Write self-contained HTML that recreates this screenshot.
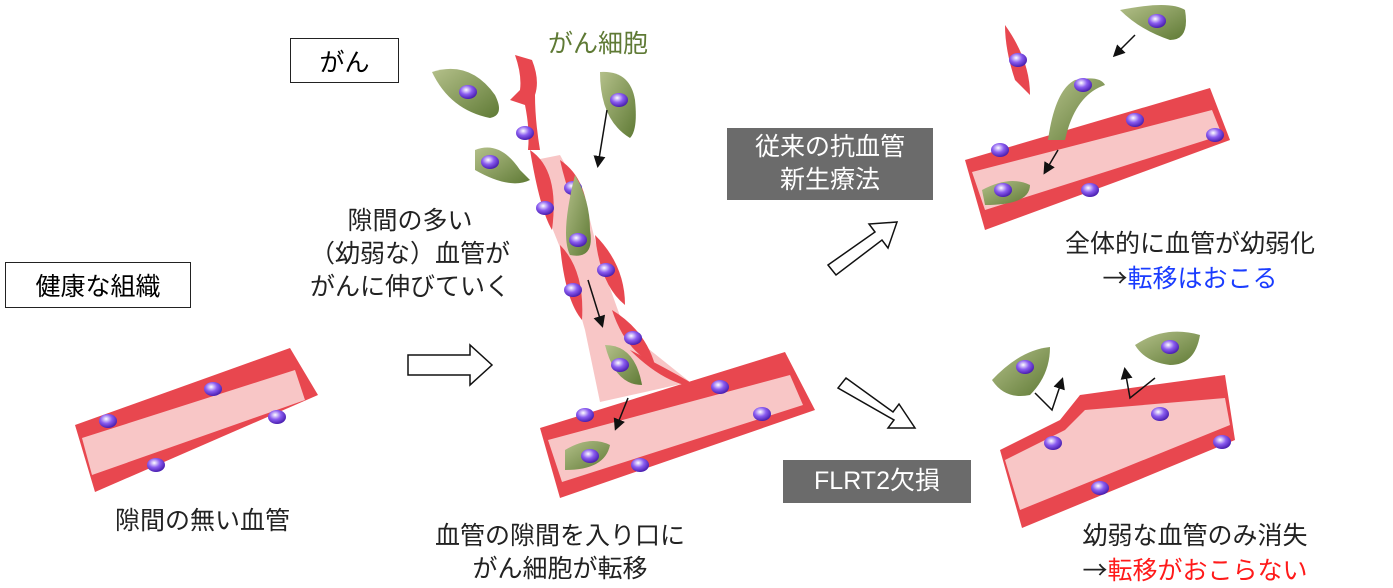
<!DOCTYPE html>
<html><head><meta charset="utf-8"><style>
body{margin:0;background:#fff;width:1393px;height:588px;overflow:hidden;position:relative;font-family:"Liberation Sans","Noto Sans CJK JP",sans-serif}
.t{position:absolute;font-size:25px;color:#222;white-space:nowrap;text-align:center;line-height:33px}
.box{position:absolute;border:1.5px solid #222;background:#fff;font-size:25px;display:flex;align-items:center;justify-content:center}
.g{position:absolute;background:#6b6b6b;color:#fff;font-size:25px;display:flex;align-items:center;justify-content:center;text-align:center;line-height:33px}
.ar{font-family:"Noto Sans CJK JP",sans-serif}
svg{position:absolute;left:0;top:0}
</style></head><body>
<svg width="1393" height="588">
<defs>
<radialGradient id="n" cx="40%" cy="35%" r="65%"><stop offset="0" stop-color="#fff"/><stop offset=".5" stop-color="#8a5cf0"/><stop offset="1" stop-color="#4a1fb0"/></radialGradient>
<linearGradient id="gc" x1="0" y1="0" x2="1" y2="1"><stop offset="0" stop-color="#b4c08a"/><stop offset="1" stop-color="#5f7a35"/></linearGradient>
<marker id="a" markerWidth="8" markerHeight="8" refX="6" refY="4" orient="auto"><path d="M0,0L8,4L0,8z" fill="#111"/></marker>
<g id="cell"><ellipse rx="9" ry="7" fill="url(#n)"/></g>
</defs>
<!-- healthy vessel -->
<polygon points="75,425 290,348 318,395 95,492" fill="#e8474f"/>
<polygon points="82,438 295,370 305,400 92,475" fill="#f8c6c6"/>
<use href="#cell" x="108" y="421"/><use href="#cell" x="213" y="389"/><use href="#cell" x="277" y="417"/><use href="#cell" x="156" y="465"/>
<!-- center vessel -->
<polygon points="540,428 785,352 815,410 560,498" fill="#e8474f"/>
<polygon points="548,440 790,375 803,405 562,482" fill="#f8c6c6"/>
<path d="M515,55 Q522,75 520,90 L510,100 L525,105 Q530,130 528,150 L540,150 Q535,120 535,95 Q540,80 532,60z" fill="#e8474f"/>
<polygon points="535,160 560,155 585,200 600,260 625,330 690,382 600,402 585,330 565,260 545,210" fill="#f8c6c6"/>
<path d="M530,150 Q560,170 552,230 Q540,210 530,150z" fill="#e8474f"/>
<path d="M560,160 Q590,180 588,230 Q570,205 560,160z" fill="#e8474f"/>
<path d="M560,245 Q585,270 582,320 Q565,300 560,245z" fill="#e8474f"/>
<path d="M595,235 Q625,265 625,305 Q600,285 595,235z" fill="#e8474f"/>
<path d="M612,310 Q645,330 655,365 Q625,350 612,310z" fill="#e8474f"/>
<path d="M630,350 Q670,370 700,388 Q665,385 630,350z" fill="#e8474f"/>
<use href="#cell" x="573" y="188"/><use href="#cell" x="545" y="208"/><use href="#cell" x="606" y="270"/><use href="#cell" x="573" y="290"/><use href="#cell" x="633" y="338"/><use href="#cell" x="720" y="387"/><use href="#cell" x="762" y="414"/><use href="#cell" x="585" y="415"/><use href="#cell" x="640" y="465"/><use href="#cell" x="525" y="133"/>
<!-- cancer cells center -->
<path d="M432,72 Q470,60 495,95 Q505,115 490,118 Q450,110 432,72z" fill="url(#gc)"/><use href="#cell" x="468" y="92"/>
<path d="M600,72 Q630,70 635,100 Q638,130 630,138 Q600,120 600,72z" fill="url(#gc)"/><use href="#cell" x="619" y="100"/>
<path d="M475,150 Q500,140 520,170 L530,180 Q510,190 475,170z" fill="url(#gc)"/><use href="#cell" x="490" y="162"/>
<path d="M575,175 Q590,200 590,230 Q595,260 570,255 Q560,235 575,175z" fill="url(#gc)"/><use href="#cell" x="578" y="240"/>
<path d="M605,345 Q635,345 642,385 Q615,385 605,345z" fill="url(#gc)"/><use href="#cell" x="620" y="365"/>
<path d="M565,450 Q590,435 610,445 Q605,470 565,470z" fill="url(#gc)"/><use href="#cell" x="590" y="456"/>
<line x1="607" y1="110" x2="598" y2="165" stroke="#111" stroke-width="1.5" marker-end="url(#a)"/>
<line x1="588" y1="280" x2="602" y2="325" stroke="#111" stroke-width="1.5" marker-end="url(#a)"/>
<line x1="628" y1="398" x2="616" y2="428" stroke="#111" stroke-width="1.5" marker-end="url(#a)"/>
<!-- hollow arrows -->
<polygon points="408,355 470,355 470,345 492,365 470,385 470,375 408,375" fill="#fff" stroke="#111" stroke-width="1.5"/>
<polygon points="828,265 875,232 869,224 897,222 888,248 882,240 836,275" fill="#fff" stroke="#111" stroke-width="1.5"/>
<polygon points="846,378 893,412 899,404 915,428 888,428 894,420 838,388" fill="#fff" stroke="#111" stroke-width="1.5"/>
<!-- top right vessel -->
<polygon points="965,160 1210,88 1230,140 985,230" fill="#e8474f"/>
<polygon points="972,172 1212,110 1222,135 985,210" fill="#f8c6c6"/>
<path d="M1005,25 Q1030,60 1030,95 L1015,80 Q1005,50 1005,25z" fill="#e8474f"/>
<use href="#cell" x="1018" y="60"/><use href="#cell" x="1000" y="150"/><use href="#cell" x="1135" y="120"/><use href="#cell" x="1215" y="135"/><use href="#cell" x="1090" y="190"/>
<path d="M1120,10 Q1170,0 1185,10 Q1190,40 1170,40 Q1140,30 1120,10z" fill="url(#gc)"/><use href="#cell" x="1157" y="21"/>
<path d="M1048,140 Q1055,90 1075,80 Q1100,75 1105,85 Q1075,95 1065,140z" fill="url(#gc)"/><use href="#cell" x="1083" y="85"/>
<path d="M982,190 Q1010,175 1030,185 Q1030,205 985,205z" fill="url(#gc)"/><use href="#cell" x="1003" y="190"/>
<line x1="1135" y1="35" x2="1115" y2="55" stroke="#111" stroke-width="1.5" marker-end="url(#a)"/>
<line x1="1058" y1="150" x2="1045" y2="172" stroke="#111" stroke-width="1.5" marker-end="url(#a)"/>
<!-- bottom right vessel -->
<polygon points="1000,450 1060,420 1080,395 1225,375 1235,440 1022,528" fill="#e8474f"/>
<polygon points="1005,460 1065,430 1085,410 1225,398 1230,425 1020,510" fill="#f8c6c6"/>
<use href="#cell" x="1053" y="443"/><use href="#cell" x="1160" y="414"/><use href="#cell" x="1222" y="442"/><use href="#cell" x="1100" y="488"/>
<path d="M992,380 Q1020,350 1050,347 Q1050,375 1030,395 Q1005,400 992,380z" fill="url(#gc)"/><use href="#cell" x="1025" y="367"/>
<path d="M1135,345 Q1165,325 1200,335 Q1195,365 1170,365 Q1145,362 1135,345z" fill="url(#gc)"/><use href="#cell" x="1170" y="347"/>
<polyline points="1035,393 1052,410 1062,380" fill="none" stroke="#111" stroke-width="1.5" marker-end="url(#a)"/>
<polyline points="1155,378 1130,398 1125,370" fill="none" stroke="#111" stroke-width="1.5" marker-end="url(#a)"/>
</svg>
<div class="box" style="left:290px;top:38px;width:107px;height:43px">がん</div>
<div class="box" style="left:5px;top:262px;width:184px;height:44px">健康な組織</div>
<div class="g" style="left:727px;top:128px;width:206px;height:72px">従来の抗血管<br>新生療法</div>
<div class="g" style="left:783px;top:460px;width:188px;height:43px">FLRT2欠損</div>
<div class="t" style="left:548px;top:28px;color:#5f7a35">がん細胞</div>
<div class="t" style="left:305px;top:205px;width:210px">隙間の多い<br>（幼弱な）血管が<br>がんに伸びていく</div>
<div class="t" style="left:115px;top:505px">隙間の無い血管</div>
<div class="t" style="left:410px;top:520px;width:300px">血管の隙間を入り口に<br>がん細胞が転移</div>
<div class="t" style="left:1030px;top:228px;width:320px">全体的に血管が幼弱化<br><span class="ar">→</span><span style="color:#1a3cff">転移はおこる</span></div>
<div class="t" style="left:1045px;top:520px;width:300px">幼弱な血管のみ消失<br><span class="ar">→</span><span style="color:#ff1a1a">転移がおこらない</span></div>
</body></html>
